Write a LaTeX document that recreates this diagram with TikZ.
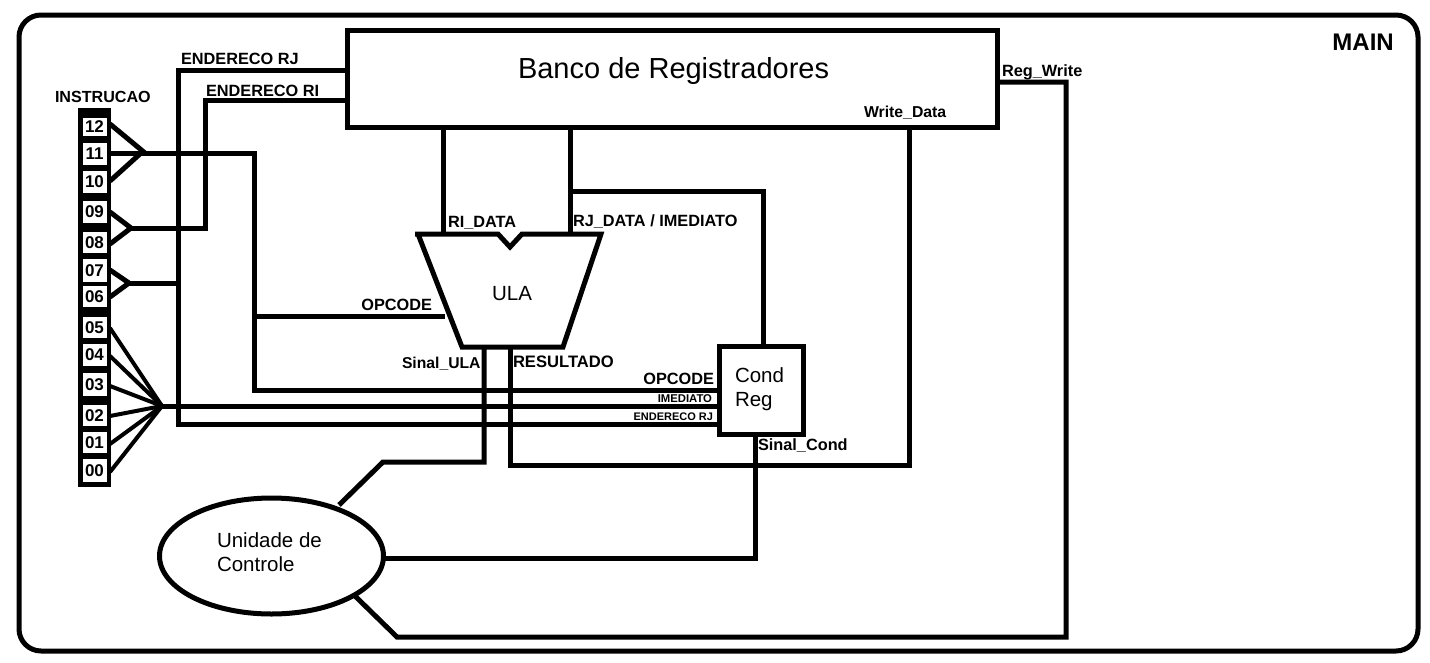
\documentclass[tikz,border=0pt]{standalone}
\usepackage{fontspec}
\setmainfont{Liberation Sans}
\usetikzlibrary{shapes.geometric}
\tikzset{
  x=1pt,y=-1pt,
  box/.style={draw=black,line width=5pt,fill=white,inner sep=0pt,outer sep=0pt},
  wire/.style={draw=black,line width=5pt,line join=miter,line cap=butt},
  cell/.style={fill=white,inner sep=0pt,outer sep=0pt,minimum width=24pt,font=\bfseries\fontsize{17}{17}\selectfont},
  lbl/.style={anchor=base west,inner sep=0pt,outer sep=0pt,font=\bfseries\fontsize{#1}{#1}\selectfont},
  lbl/.default=16.3,
  lble/.style={anchor=base east,inner sep=0pt,outer sep=0pt,font=\bfseries\fontsize{#1}{#1}\selectfont},
  lble/.default=16.3,
  big/.style={inner sep=0pt,outer sep=0pt,font=\fontsize{#1}{#1}\selectfont},
  big/.default=20.5
}
\begin{document}
\begin{tikzpicture}
\useasboundingbox (0,0) rectangle (1430,662);
\fill[white] (0,0) rectangle (1430,662);
% outer frame
\node[draw=black,line width=5pt,rounded corners=22pt,inner sep=0pt,minimum width=1399pt,minimum height=636pt] (frame) at (718.5,333) {};
\node[anchor=base east,inner sep=0pt,font=\bfseries\fontsize{24}{24}\selectfont] (main) at (1394,50) {MAIN};
% main blocks
\node[box,minimum width=650pt,minimum height=97pt] (banco) at (672,78.5) {};
\node[big=29,anchor=base west] (bancot) at (518,78) {Banco de Registradores};
\node[box,minimum width=84pt,minimum height=88pt] (cond) at (761,390) {};
\node[big,anchor=base west] (c1) at (735,382) {Cond};
\node[big,anchor=base west] (c2) at (735,406) {Reg};
\node[draw=black,line width=5pt,fill=white,ellipse,inner sep=0pt,outer sep=0pt,minimum width=224pt,minimum height=116pt] (uc) at (271.5,556) {};
\node[big,anchor=base west] (u1) at (217,547) {Unidade de};
\node[big,anchor=base west] (u2) at (217,571) {Controle};
% instruction register
\node[fill=black,inner sep=0pt,outer sep=0pt,minimum width=33pt,minimum height=379pt] (col) at (94.5,297.5) {};
\node[lbl=16.1] (ins) at (55,102) {INSTRUCAO};
\foreach \n/\ya/\yb in {12/118/136,11/143/165,10/171/193,09/201/223,08/232/253,07/259/282,06/286/307,05/317/338,04/344/366,03/373/396,02/405/426,01/432/453,00/459/482}{
  \pgfmathsetmacro{\yc}{(\ya+\yb)/2}
  \pgfmathsetmacro{\hh}{\yb-\ya}
  \node[cell,minimum height=\hh pt] (b\n) at (94.5,\yc) {\raisebox{-1pt}{\n}};
}
% junction coordinates
\coordinate (f1) at (145,153);
\coordinate (f1b) at (141,153);
\coordinate (f2) at (131,228);
\coordinate (f3) at (129,283);
\coordinate (f4) at (162,406);
\coordinate (rjin) at (347,70);
\coordinate (riin) at (347,100);
\coordinate (opula) at (445,316);
\coordinate (opc) at (719,390);
\coordinate (imc) at (719,406);
\coordinate (enc) at (719,424);
\coordinate (rd) at (443,234);
\coordinate (rj) at (570,234);
\coordinate (rds) at (443,127);
\coordinate (rjs) at (570,127);
\coordinate (rjt) at (570,191);
\coordinate (cn) at (763,346);
\coordinate (sul) at (484,347);
\coordinate (res) at (510,347);
\coordinate (wd) at (909,127);
\coordinate (ucn) at (339,505);
\coordinate (scs) at (755,434);
\coordinate (uce) at (383,558);
\coordinate (rw) at (997,82);
\coordinate (ucs) at (355,596);
\coordinate (opj) at (254,316);
% decoder wires
\draw[wire] (110,124) -- (f1);
\draw[wire] (110,181) -- (f1b);
\draw[wire] (110,153) -- (254,153) -- (254,390) -- (opc);
\draw[wire] (opj) -- (opula);
\draw[wire] (110,212) -- (f2);
\draw[wire] (110,244) -- (f2);
\draw[wire] (f2) -- (205,228) -- (205,100) -- (riin);
\draw[wire] (110,270) -- (f3);
\draw[wire] (110,297) -- (f3);
\draw[wire] (f3) -- (178,283);
\draw[wire] (rjin) -- (178,70) -- (178,424) -- (enc);
\foreach \y in {328,356,386,416,444,472}{
  \draw[draw=black,line width=4pt] (110,\y) -- (f4);
}
\draw[wire] (f4) -- (imc);
% ULA
\draw[wire] (rds) -- (rd);
\draw[wire] (rjs) -- (rj);
\draw[wire] (rjt) -- (763,191) -- (cn);
\draw[wire,fill=white,miter limit=2] (415,234) -- (498,234) -- (510,247) -- (522,234) -- (601,234) -- (563,347) -- (462,347) -- (418,234) -- cycle;
\node[big] (ula) at (512,294) {ULA};
% lower wires
\draw[wire] (sul) -- (484,462) -- (383,462) -- (ucn);
\draw[wire] (res) -- (510,465) -- (909,465) -- (wd);
\draw[wire] (scs) -- (755,558) -- (uce);
\draw[wire] (rw) -- (1066,82) -- (1066,637) -- (397,637) -- (ucs);
% labels
\node[lbl] (t1) at (181,64) {ENDERECO RJ};
\node[lbl] (t2) at (206,96) {ENDERECO RI};
\node[lbl] (t3) at (448,227) {RI\_DATA};
\node[lbl] (t4) at (573,226) {RJ\_DATA / IMEDIATO};
\node[lble] (t5) at (432,310) {OPCODE};
\node[lbl=15.7] (t6) at (402,368) {Sinal\_ULA};
\node[lbl=16.6] (t7) at (513,367) {RESULTADO};
\node[lble] (t8) at (714,384) {OPCODE};
\node[lble=11.3] (t9) at (712,402) {IMEDIATO};
\node[lble=11] (t10) at (713,420) {ENDERECO RJ};
\node[lbl] (t11) at (758,450) {Sinal\_Cond};
\node[lbl=15.8] (t12) at (864,117) {Write\_Data};
\node[lbl] (t13) at (1002,76) {Reg\_Write};
\end{tikzpicture}
\end{document}
